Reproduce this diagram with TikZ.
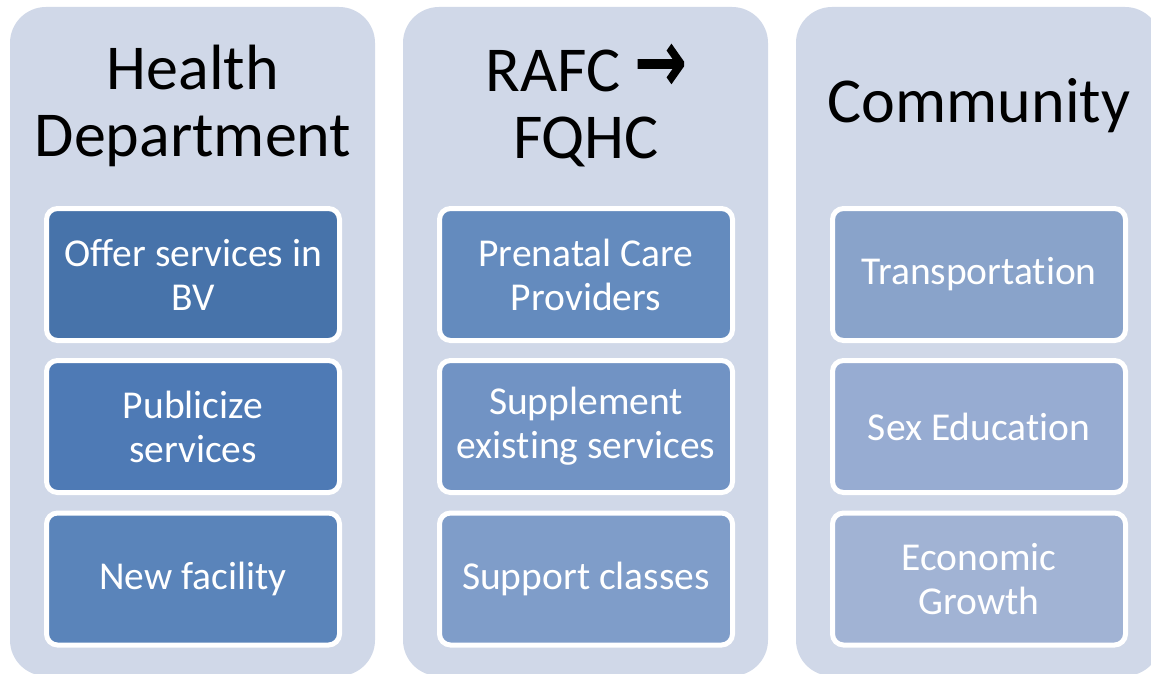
\documentclass[tikz,border=0pt]{standalone}
\usepackage{fontspec}
\usepackage{graphicx}
\setmainfont{Carlito}[Ligatures={NoCommon}]
\newfontfamily\arrowfont{DejaVu Sans}[FakeBold=3]
\definecolor{colbg}{HTML}{D0D8E8}
\definecolor{ca}{HTML}{4773AA}
\definecolor{cb}{HTML}{4E7AB5}
\definecolor{cc}{HTML}{5A84BA}
\definecolor{cd}{HTML}{648BBE}
\definecolor{ce}{HTML}{7193C4}
\definecolor{cf}{HTML}{7F9DC9}
\definecolor{cg}{HTML}{89A3CA}
\definecolor{ch}{HTML}{97ACD2}
\definecolor{ci}{HTML}{A1B3D4}
\tikzset{
  colbox/.style={fill=colbg, rounded corners=36pt, minimum width=365pt, minimum height=669pt, inner sep=0pt},
  titletext/.style={font=\fontsize{64}{67}\selectfont, align=center, inner sep=0pt, text=black},
  itembox/.style={draw=white, line width=5pt, rounded corners=11pt, minimum width=293pt, minimum height=132pt, inner sep=0pt, text=white, font=\fontsize{39.5}{44}\selectfont, align=center}
}
\begin{document}
\begin{tikzpicture}[x=1pt,y=-1pt]
\useasboundingbox (0,0) rectangle (1151,674);
\fill[white] (0,0) rectangle (1151,674);
\begin{scope}
\clip (0,0) rectangle (1151,674);
\node[colbox] (c1) at (192.5,341.5) {};
\node[colbox] (c2) at (585.5,341.5) {};
\node[colbox] (c3) at (978.5,341.5) {};
\node[titletext] (t1) at (193,106) {Health\\Department};
\node[titletext] (t2) at (586,106) {RAFC {\arrowfont\scalebox{0.95}[1.35]{→}}\\FQHC};
\node[titletext] (t3) at (979,106) {Community};
\node[itembox, fill=ca] (b11) at (193,274.5) {Offer services in\\BV};
\node[itembox, fill=cb] (b12) at (193,426.5) {Publicize\\services};
\node[itembox, fill=cc] (b13) at (193,579) {New facility};
\node[itembox, fill=cd] (b21) at (586,274.5) {Prenatal Care\\Providers};
\node[itembox, fill=ce] (b22) at (586,426.5) {Supplement\\existing services};
\node[itembox, fill=cf] (b23) at (586,579) {Support classes};
\node[itembox, fill=cg] (b31) at (979,274.5) {Transportation};
\node[itembox, fill=ch] (b32) at (979,426.5) {Sex Education};
\node[itembox, fill=ci] (b33) at (979,579) {Economic\\Growth};
\end{scope}
\end{tikzpicture}
\end{document}
